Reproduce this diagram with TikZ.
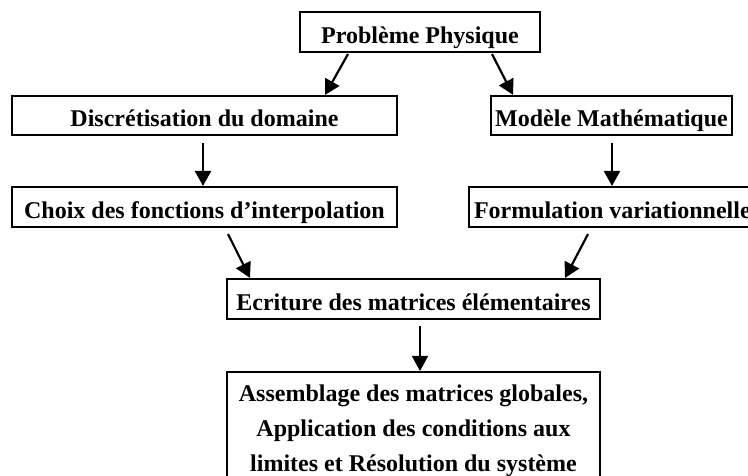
\documentclass[tikz,border=0pt]{standalone}
\usepackage{fontspec}
\setmainfont{Liberation Serif}
\usetikzlibrary{arrows.meta}
\begin{document}
\begin{tikzpicture}[x=1pt,y=-1pt,
  box/.style={draw=black,line width=2.1pt,rectangle,inner sep=0pt,align=center,
    font=\fontsize{24}{35}\selectfont\bfseries},
  one/.style={text height=26pt,text depth=4pt},
  arr/.style={line width=2.2pt,-{Triangle[length=15pt,width=16pt]}}]
\useasboundingbox (0,0) rectangle (748,475);
\node[box,one,minimum width=240,minimum height=40] (pp) at (420,32) {Problème Physique};
\node[box,one,minimum width=385,minimum height=39] (disc) at (204.5,115.5) {Discrétisation du domaine};
\node[box,one,minimum width=241,minimum height=39] (mod) at (611.5,115.5) {Modèle Mathématique};
\node[box,one,minimum width=385,minimum height=40] (choix) at (204.5,207) {Choix des fonctions d’interpolation};
\node[box,one,minimum height=40,inner xsep=5pt,anchor=west] (form) at (468,207) {Formulation variationnelle};
\node[box,one,minimum width=373,minimum height=40] (ecr) at (413.5,299) {Ecriture des matrices élémentaires};
\node[box,minimum width=373,minimum height=118] (fin) at (413.5,431) {Assemblage des matrices globales,\\Application des conditions aux\\limites et Résolution du système};
\draw[arr] ([xshift=-72,yshift=-1]pp.south) -- ([xshift=120.5]disc.north);
\draw[arr] ([xshift=72,yshift=-1]pp.south) -- ([xshift=-98.5]mod.north);
\draw[arr] ([xshift=-1.5,yshift=-7]disc.south) -- ([xshift=-1.5]choix.north);
\draw[arr] ([xshift=0.5,yshift=-7]mod.south) -- ([xshift=0.5]form.north -| mod.south);
\draw[arr] ([xshift=23.5,yshift=-6]choix.south) -- ([xshift=-163.5]ecr.north);
\draw[arr] ([yshift=-6]form.south -| 588,0) -- ([xshift=151.5]ecr.north);
\draw[arr] ([xshift=6.5,yshift=-6]ecr.south) -- ([xshift=6.5]fin.north);
\end{tikzpicture}
\end{document}
